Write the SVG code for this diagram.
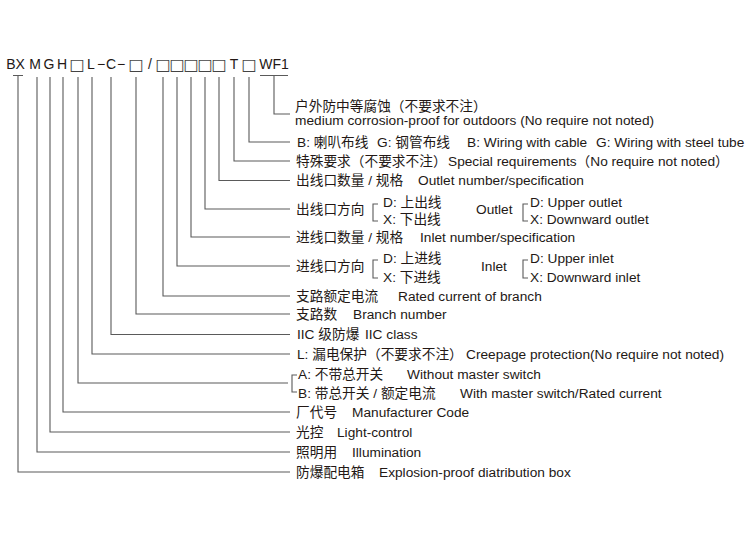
<svg xmlns="http://www.w3.org/2000/svg" width="750" height="536" viewBox="0 0 750 536">
<style>
text{font-family:"Liberation Sans","Noto Sans CJK SC",sans-serif;font-size:13.7px;fill:#231815}
.code{font-size:14px}
.c{text-anchor:middle}
.box{font-family:"DejaVu Sans",sans-serif;font-size:16px;text-anchor:middle;fill:#444}
.ln{fill:none;stroke:#5a5a5a;stroke-width:1.1}
</style>
<rect width="750" height="536" fill="#fff"/>
<g id="code">
<text class="code c" x="15.5" y="68.5">BX</text>
<text class="code c" x="35" y="68.5">M</text>
<text class="code c" x="49" y="68.5">G</text>
<text class="code c" x="62" y="68.5">H</text>
<text class="box" x="77" y="69.5">□</text>
<text class="code c" x="91" y="68.5">L</text>
<text class="code c" x="101" y="68.5">−</text>
<text class="code c" x="111" y="68.5">C</text>
<text class="code c" x="121" y="68.5">−</text>
<text class="box" x="136" y="69.5">□</text>
<text class="code c" x="150" y="68.5">/</text>
<text class="box" x="163" y="69.5">□</text>
<text class="box" x="177" y="69.5">□</text>
<text class="box" x="191" y="69.5">□</text>
<text class="box" x="205" y="69.5">□</text>
<text class="box" x="219" y="69.5">□</text>
<text class="code c" x="234" y="68.5">T</text>
<text class="box" x="249" y="69.5">□</text>
<text class="code c" x="274" y="68.5">WF1</text>
</g>
<g id="connectors">
<path class="ln" d="M13,75.5H23M18,75.5V472H290"/>
<path class="ln" d="M37,77V452H290"/>
<path class="ln" d="M50,77V432H290"/>
<path class="ln" d="M63,77V412H290"/>
<path class="ln" d="M78,77V383H288"/>
<path class="ln" d="M92,77V354H290"/>
<path class="ln" d="M111,77V334.5H290"/>
<path class="ln" d="M136,77V314H290"/>
<path class="ln" d="M163,77V296H290"/>
<path class="ln" d="M177,77V266H290"/>
<path class="ln" d="M191,77V237H290"/>
<path class="ln" d="M205,77V209H290"/>
<path class="ln" d="M219,77V180.5H290"/>
<path class="ln" d="M234,77V161H290"/>
<path class="ln" d="M249,77V142H290"/>
<path class="ln" d="M260,75.5H288M274,75.5V114H290"/>
</g>
<g id="brackets">
<path class="ln" d="M378,204H373V221H378"/>
<path class="ln" d="M528,204H523V221H528"/>
<path class="ln" d="M378,260H373V278H378"/>
<path class="ln" d="M528,260H523V278H528"/>
<path class="ln" d="M297,375H292V392H297"/>
</g>
<g id="n-wf1">
<text x="295" y="111">户外防中等腐蚀（不要求不注）</text>
<text x="295" y="125">medium corrosion-proof for outdoors (No require not noted)</text>
</g>
<g id="n-wiring">
<text x="297" y="146.5">B: 喇叭布线</text>
<text x="377" y="146.5">G: 钢管布线</text>
<text x="467" y="146.5">B: Wiring with cable</text>
<text x="596" y="146.5">G: Wiring with steel tube</text>
</g>
<g id="n-special">
<text x="296" y="165.5">特殊要求（不要求不注）</text>
<text x="448" y="165.5">Special requirements（No require not noted）</text>
</g>
<g id="n-outlet-num">
<text x="296" y="185">出线口数量 / 规格</text>
<text x="418" y="185">Outlet number/specification</text>
</g>
<g id="n-outlet-dir">
<text x="296" y="214">出线口方向</text>
<text x="383" y="206.5">D: 上出线</text>
<text x="383" y="224">X: 下出线</text>
<text x="476" y="214">Outlet</text>
<text x="530" y="206.5">D: Upper outlet</text>
<text x="530" y="224">X: Downward outlet</text>
</g>
<g id="n-inlet-num">
<text x="296" y="241.5">进线口数量 / 规格</text>
<text x="420" y="241.5">Inlet number/specification</text>
</g>
<g id="n-inlet-dir">
<text x="296" y="271">进线口方向</text>
<text x="383" y="263">D: 上进线</text>
<text x="383" y="281.5">X: 下进线</text>
<text x="481" y="271">Inlet</text>
<text x="530" y="263">D: Upper inlet</text>
<text x="530" y="281.5">X: Downward inlet</text>
</g>
<g id="n-rated">
<text x="296" y="300.5">支路额定电流</text>
<text x="398" y="300.5">Rated current of branch</text>
</g>
<g id="n-branch">
<text x="296" y="318.5">支路数</text>
<text x="353" y="318.5">Branch number</text>
</g>
<g id="n-iic">
<text x="297" y="339">IIC 级防爆</text>
<text x="365" y="339">IIC class</text>
</g>
<g id="n-leak">
<text x="297" y="358.5">L: 漏电保护（不要求不注）</text>
<text x="466" y="358.5">Creepage protection(No require not noted)</text>
</g>
<g id="n-switch">
<text x="298" y="378.5">A: 不带总开关</text>
<text x="407" y="378.5">Without master switch</text>
<text x="298" y="397.5">B: 带总开关 / 额定电流</text>
<text x="460" y="397.5">With master switch/Rated current</text>
</g>
<g id="n-maker">
<text x="296" y="416.5">厂代号</text>
<text x="352" y="416.5">Manufacturer Code</text>
</g>
<g id="n-light">
<text x="296" y="436.5">光控</text>
<text x="337" y="436.5">Light-control</text>
</g>
<g id="n-illum">
<text x="296" y="456.5">照明用</text>
<text x="352" y="456.5">Illumination</text>
</g>
<g id="n-box">
<text x="296" y="476.5">防爆配电箱</text>
<text x="379" y="476.5">Explosion-proof diatribution box</text>
</g>
</svg>
